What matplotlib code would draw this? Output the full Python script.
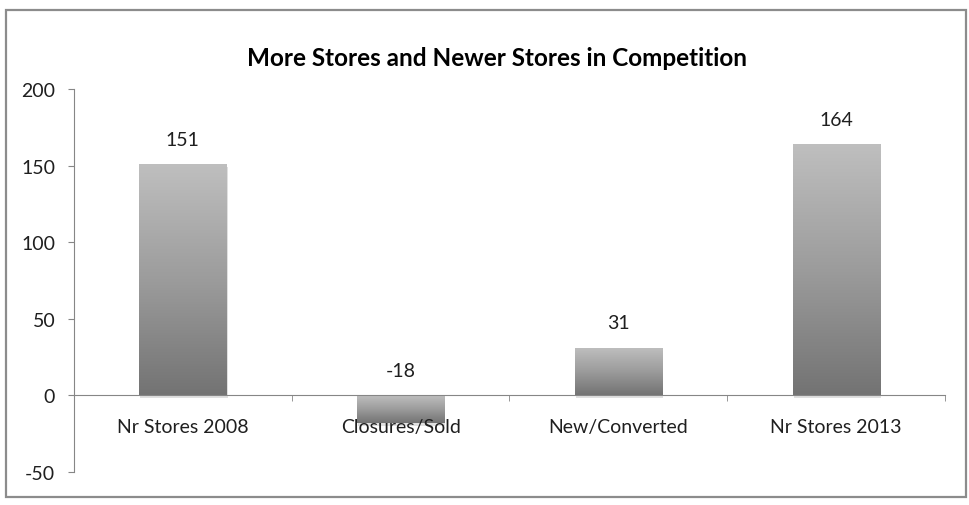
import matplotlib
matplotlib.use("Agg")
import matplotlib.pyplot as plt
import numpy as np
from matplotlib.colors import LinearSegmentedColormap
from matplotlib.patches import Rectangle
import matplotlib.patheffects as pe

categories = ["Nr Stores 2008", "Closures/Sold", "New/Converted", "Nr Stores 2013"]
values = [151, -18, 31, 164]
y_ticks = [-50, 0, 50, 100, 150, 200]
title = "More Stores and Newer Stores in Competition"

plt.rcParams["font.family"] = ["Lato", "DejaVu Sans"]
plt.rcParams["axes.unicode_minus"] = False

axis_grey = "#868686"
text_col = "#1f1f1f"
shade = LinearSegmentedColormap.from_list("shade", ["#bfbfbf", "#9c9c9c", "#737373"])

fig = plt.figure(figsize=(9.69, 5.06), dpi=100)
ax = fig.add_axes([74 / 969, 1 - 473 / 506, (945 - 74) / 969, (473 - 90) / 506])

# chart frame
fig.patches.append(Rectangle((6 / 969, 1 - 498 / 506), 960 / 969, 487 / 506,
                             transform=fig.transFigure, fill=False,
                             edgecolor="#8c8c8c", linewidth=1.6))

x = np.arange(len(categories))
bars = ax.bar(x, values, width=0.4, color="#9a9a9a", zorder=1,
              path_effects=[pe.SimplePatchShadow(offset=(0.8, -2.2), shadow_rgbFace="k", alpha=0.12),
                            pe.Normal()])

# vertical gradient inside every bar
grad = np.linspace(0, 1, 256).reshape(-1, 1)
for rect in bars:
    x0 = rect.get_x()
    x1 = x0 + rect.get_width()
    h = rect.get_height()
    lo, hi = min(0, h), max(0, h)
    im = ax.imshow(grad, extent=[x0, x1, lo, hi], origin="upper", cmap=shade,
                   aspect="auto", zorder=1.2, interpolation="bilinear")
    im.set_clip_path(rect)

# value labels
for xi, v in zip(x, values):
    ax.annotate(str(v), (xi, max(v, 0)), xytext=(0, 18), textcoords="offset points",
                ha="center", va="center", fontsize=14, color=text_col)

ax.set_xlim(-0.5, len(categories) - 0.5)
ax.set_ylim(-50, 200)
ax.set_yticks(y_ticks)
ax.set_xticks(x)
ax.set_xticklabels(categories)
ax.set_xticks(list(x[:-1] + 0.5) + [len(categories) - 0.5], minor=True)

for side in ["top", "right"]:
    ax.spines[side].set_visible(False)
ax.spines["bottom"].set_position(("data", 0))
ax.spines["left"].set_color(axis_grey)
ax.spines["bottom"].set_color(axis_grey)

ax.tick_params(axis="y", direction="out", length=4.5, color=axis_grey, pad=9,
               labelsize=14, labelcolor=text_col)
ax.tick_params(axis="x", which="major", length=0, pad=16, labelsize=14, labelcolor=text_col)
ax.tick_params(axis="x", which="minor", direction="out", length=4.5, color=axis_grey)

fig.text(497 / 969, 1 - 58 / 506, title, ha="center", va="center",
         fontsize=17.5, fontweight="bold", color="#000000")

fig.savefig("out.png", dpi=100)
